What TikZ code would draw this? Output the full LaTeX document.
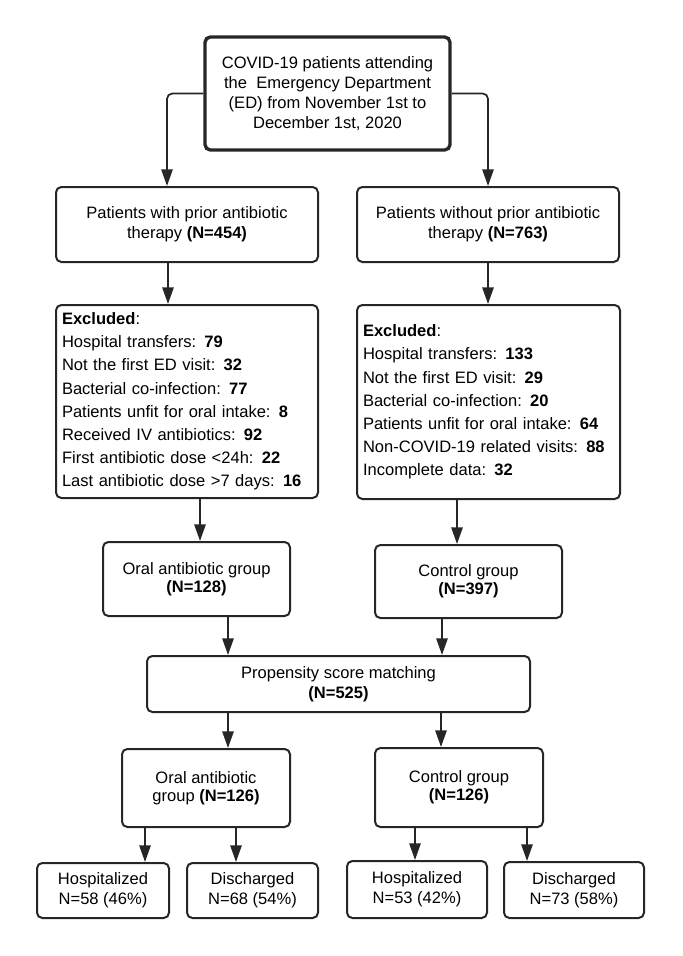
\documentclass[tikz,border=0pt]{standalone}
\usepackage{fontspec}
\setmainfont{Liberation Sans}
\usepackage{xcolor}
\usepackage{tikz}
\usetikzlibrary{arrows.meta}

\definecolor{boxgray}{HTML}{262626}

\tikzset{
box/.style={draw=boxgray, line width=1.5pt, rounded corners=4pt, align=center, inner sep=0pt, font=\fontsize{12.4}{15}\selectfont},
listbox/.style={box, align=left, font=\fontsize{12.4}{17.4}\selectfont},
groupbox/.style={box, font=\fontsize{12.4}{13.6}\selectfont},
arr/.style={draw=boxgray, line width=1.3pt, -{Triangle[length=12.5pt,width=8.5pt]}}
}

\begin{document}
\begin{tikzpicture}[x=0.75pt, y=-0.75pt]
\useasboundingbox (0,0) rectangle (682,956);

\node[box, line width=2.5pt, minimum width=183.75pt, minimum height=84.75pt] (start) at (327.5,93.5)
{COVID-19 patients attending\\the\ \ Emergency Department\\(ED) from November 1st to\\December 1st, 2020};

\node[box, minimum width=196.5pt, minimum height=56.25pt] (withAb) at (187,224.5)
{Patients with prior antibiotic\\therapy \textbf{(N=454)}};
\node[box, minimum width=196.5pt, minimum height=56.25pt] (withoutAb) at (488,224.5)
{Patients without prior antibiotic\\therapy \textbf{(N=763)}};

\node[listbox, minimum width=196.5pt, minimum height=144.75pt, text width=187.5pt] (exclA) at (187,401.5)
{\textbf{Excluded}:\\
Hospital transfers: \textbf{79}\\
Not the first ED visit: \textbf{32}\\
Bacterial co-infection: \textbf{77}\\
Patients unfit for oral intake: \textbf{8}\\
Received IV antibiotics: \textbf{92}\\
First antibiotic dose <24h: \textbf{22}\\
Last antibiotic dose >7 days: \textbf{16}};
\node[listbox, minimum width=197.25pt, minimum height=145.5pt, text width=188.25pt] (exclB) at (488.5,402)
{\textbf{Excluded}:\\
Hospital transfers: \textbf{133}\\
Not the first ED visit: \textbf{29}\\
Bacterial co-infection: \textbf{20}\\
Patients unfit for oral intake: \textbf{64}\\
Non-COVID-19 related visits: \textbf{88}\\
Incomplete data: \textbf{32}};

\node[groupbox, minimum width=140.25pt, minimum height=55.5pt] (oralA) at (196.5,579)
{Oral antibiotic group\\\textbf{(N=128)}};
\node[groupbox, minimum width=140.25pt, minimum height=54.75pt] (ctrlA) at (468.5,581.5)
{Control group\\\textbf{(N=397)}};

\node[box, minimum width=287.25pt, minimum height=42pt] (psm) at (338.5,684)
{Propensity score matching\\\textbf{(N=525)}};

\node[groupbox, minimum width=126pt, minimum height=58.5pt] (oralB) at (206,788)
{Oral antibiotic\\group \textbf{(N=126)}};
\node[groupbox, minimum width=126pt, minimum height=59.25pt] (ctrlB) at (459,787.5)
{Control group\\\textbf{(N=126)}};

\node[box, minimum width=99pt, minimum height=41.25pt] (hospA) at (103,890.5) {Hospitalized\\N=58 (46\%)};
\node[box, minimum width=98.25pt, minimum height=41.25pt] (dischA) at (252.5,890.5) {Discharged\\N=68 (54\%)};
\node[box, minimum width=105pt, minimum height=42.75pt] (hospB) at (417,889.5) {Hospitalized\\N=53 (42\%)};
\node[box, minimum width=105pt, minimum height=42pt] (dischB) at (574,890) {Discharged\\N=73 (58\%)};

% split from the first box
\draw[arr, rounded corners=4pt] (start.west) -| (withAb.north -| 167,0);
\draw[arr, rounded corners=4pt] (start.east) -| (withoutAb.north -| 488,0);

\foreach \a/\b/\x in {withAb/exclA/168, withoutAb/exclB/488, exclA/oralA/200, exclB/ctrlA/457,
  oralA/psm/228, ctrlA/psm/442, psm/oralB/228, psm/ctrlB/441,
  oralB/hospA/145, oralB/dischA/236, ctrlB/hospB/415, ctrlB/dischB/527}
\draw[arr] (\a.south -| \x,0) -- (\b.north -| \x,0);

\end{tikzpicture}
\end{document}
